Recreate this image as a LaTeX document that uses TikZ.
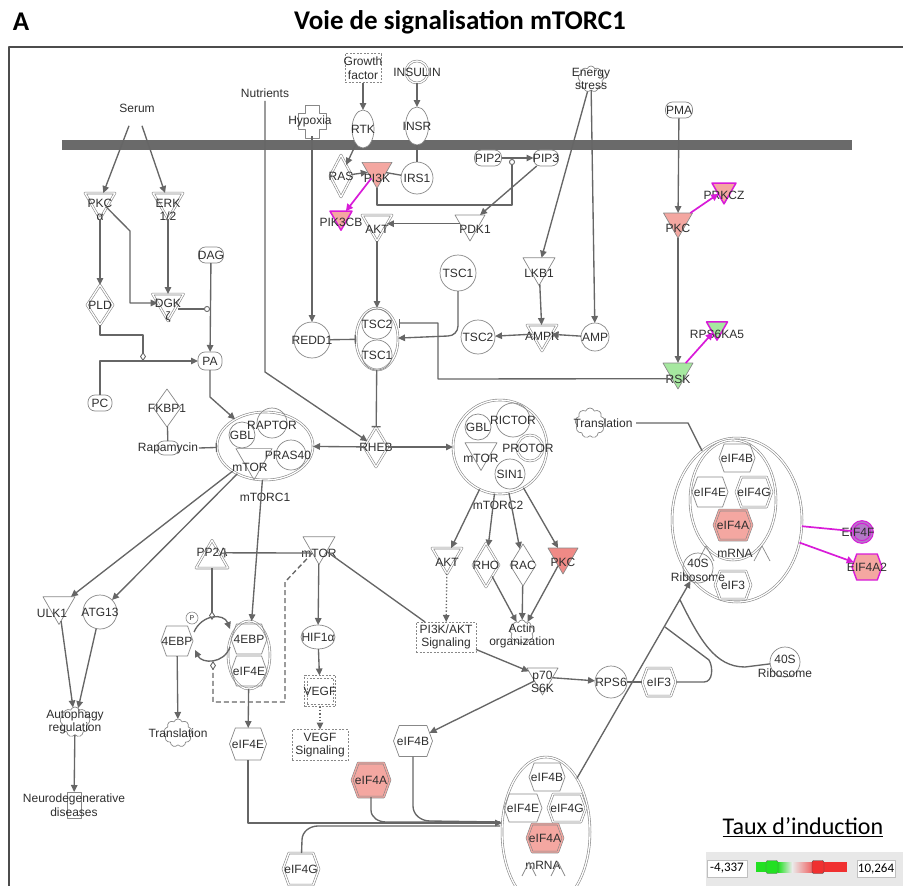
\documentclass[tikz,border=0pt]{standalone}
\usepackage{fontspec}
\setmainfont{Liberation Sans}
\newfontfamily\calfont{Carlito}
\usetikzlibrary{shapes.geometric,shapes.misc,shapes.symbols,arrows.meta,calc}
\definecolor{sc}{HTML}{888888}
\definecolor{lc}{HTML}{666666}
\definecolor{txt}{HTML}{2E2E2E}
\definecolor{redf}{HTML}{F4A7A1}
\definecolor{redd}{HTML}{F08A86}
\definecolor{grnf}{HTML}{A6E8A0}
\definecolor{mag}{HTML}{D81BD8}
\definecolor{purp}{HTML}{B478C8}
\definecolor{memb}{HTML}{6A6A6A}
\definecolor{legg}{HTML}{22E022}
\definecolor{legr}{HTML}{F03030}
\newcommand\ipafs{\fontsize{12}{13.5}\selectfont}
\begin{document}
\begin{tikzpicture}[x=1pt,y=-1pt,line join=round,
  every node/.append style={font=\ipafs,text=txt},
  every label/.append style={inner sep=0pt,align=center},
  sh/.style={draw=sc,line width=0.7pt,inner sep=0pt,outer sep=0pt},
  dbl/.style={double=#1,double distance=1.3pt,line width=0.6pt},
  dbl/.default=white,
  T/.style={label={center:#1}},
  dtri/.style={sh,regular polygon,regular polygon sides=3,shape border rotate=180,minimum size=#1},
  utri/.style={sh,regular polygon,regular polygon sides=3,minimum size=#1},
  circ/.style={sh,circle,minimum size=#1},
  ell/.style 2 args={sh,ellipse,minimum width=#1,minimum height=#2},
  dia/.style 2 args={sh,diamond,minimum width=#1,minimum height=#2},
  caps/.style 2 args={sh,rectangle,rounded corners=7pt,minimum width=#1,minimum height=#2},
  hexa/.style 2 args={sh,signal,signal to=east and west,signal pointer angle=140,minimum width=#1,minimum height=#2},
  gear/.style={sh,cloud,cloud puffs=9,cloud puff arc=140,aspect=1,minimum size=#1},
  dbox/.style 2 args={sh,rectangle,dash pattern=on 2pt off 1.5pt,minimum width=#1,minimum height=#2},
  ed/.style={draw=lc,line width=1.35pt},
  arr/.style={ed,-{Triangle[length=7pt,width=6.5pt]}},
  inh/.style={ed,-{Bar[width=9pt,line width=1.3pt]}},
  modc/.style={ed,-{Circle[open,length=6pt,width=6pt,line width=0.9pt]}},
  modd/.style={ed,-{Diamond[open,length=9pt,width=6pt,line width=0.9pt]}},
  marr/.style={draw=mag,line width=1.7pt,-{Triangle[length=7pt,width=7pt]}},
  mline/.style={draw=mag,line width=1.7pt}]
\useasboundingbox (0,0) rectangle (903,886);
% title and frame
\node[font=\calfont\bfseries\fontsize{27}{30}\selectfont,text=black] (lettA) at (21,22) {A};
\node[font=\calfont\bfseries\fontsize{27}{30}\selectfont,text=black] (title) at (460,22) {Voie de signalisation mTORC1};
\draw[draw=black!70,line width=1.5pt] (9,886) -- (9,47) -- (903,47);
% membrane
\fill[memb] (62,140) rectangle (852,150);
% ---------- top inputs
\node (serum) at (137,108) {Serum};
\node (nutr) at (265,93) {Nutrients};
\draw[sh] (305,105) -- (319,105) -- (319,113) -- (326,113) -- (326,129) -- (319,129) -- (319,138) -- (305,138) -- (305,129) -- (298,129) -- (298,113) -- (305,113) -- cycle;
\node[circle,minimum size=30pt,inner sep=0pt,label={[xshift=-2pt]center:Hypoxia}] (hypox) at (312,121) {};
\node[dbox={36pt}{29pt},T={Growth\\factor}] (gf) at (363,68) {};
\node[circ=22pt,dbl,T=INSULIN] (insulin) at (417,72) {};
\node[gear=26pt,T={Energy\\stress}] (energy) at (591,79) {};
\node[caps={27pt}{16pt},T=PMA] (pma) at (679,110) {};
\node[ell={22pt}{38pt},fill=white,T=RTK] (rtk) at (363,129) {};
\node[ell={23pt}{38pt},fill=white,T=INSR] (insr) at (417,126) {};
\node[dia={22pt}{42pt},dbl,T=RAS] (ras) at (341,176) {};
\node[dtri=34.6pt,fill=redf,label={[yshift=-7pt]center:PI3K}] (pi3k) at (377,171) {};
\node[circ=32pt,T=IRS1] (irs1) at (417,178) {};
\node[caps={27pt}{16pt},T=PIP2] (pip2) at (488,158) {};
\node[caps={25pt}{16pt},T=PIP3] (pip3) at (546,158) {};
\node[dtri=25.4pt,fill=redf,draw=mag,line width=1.5pt,label={[yshift=-5pt]center:PIK3CB}] (pik3cb) at (341,217.5) {};
\node[dtri=34.6pt,dbl,label={[yshift=-6pt]center:AKT}] (akt1) at (377,223.7) {};
\node[dtri=34.6pt,label={[yshift=-6pt,xshift=5pt]center:PDK1}] (pdk1) at (470,223.7) {};
\node[dtri=27.7pt,fill=redf,draw=mag,line width=1.5pt,label={[yshift=-5pt]center:PRKCZ}] (prkcz) at (724,190) {};
\node[dtri=33.5pt,fill=redf,label={[yshift=-7pt]center:PKC}] (pkc1) at (678,221.4) {};
\node[dtri=34.6pt,dbl,label={[yshift=-8pt]center:PKC\\α}] (pkca) at (100,201.7) {};
\node[dtri=34.6pt,dbl,label={[yshift=-8pt]center:ERK\\1/2}] (erk) at (168,201.7) {};
\node[caps={25pt}{16pt},T=DAG] (dag) at (211,255) {};
\node[dia={26pt}{40pt},dbl,T=PLD] (pld) at (100,305) {};
\node[dtri=35.8pt,dbl,label={[yshift=-8pt]center:DGK\\ζ}] (dgk) at (168,303) {};
\node[circ=36pt,T=TSC1] (tsc1a) at (458,273) {};
\node[dtri=37pt,label={[yshift=-6pt]center:LKB1}] (lkb1) at (539,267) {};
\node[circ=36pt,T=REDD1] (redd1) at (312,340) {};
\node[ell={42pt}{62pt},dbl] (tscc) at (377,339) {};
\node[circ=30pt,T=TSC2] (tscc2) at (377,324) {};
\node[circ=30pt,T=TSC1] (tscc1) at (377,355) {};
\node[circ=34pt,T=TSC2] (tsc2s) at (478,337) {};
\node[dtri=34.6pt,dbl,label={[yshift=-3pt]center:AMPK}] (ampk) at (542,333.7) {};
\node[circ=28pt,T=AMP] (amp) at (595,337) {};
\node[dtri=34.6pt,fill=grnf,label={[yshift=-8pt]center:RSK}] (rsk) at (678,371.7) {};
\node[dtri=24.2pt,fill=grnf,draw=mag,line width=1.5pt,label={[yshift=-6pt]center:RPS6KA5}] (rps6ka5) at (717,328) {};
\node[caps={24pt}{18pt},T=PA] (pa) at (210,361) {};
\node[caps={24pt}{16pt},T=PC] (pc) at (100,403) {};
\node[dia={27pt}{38pt},T=FKBP1] (fkbp1) at (167,408) {};
\node[caps={22pt}{14pt},T=Rapamycin] (rapa) at (168,448) {};
% ---------- mTORC1
\node[ell={96pt}{68pt},dbl] (mtorc1) at (265,446) {};
\node[circ=26pt,T=GBL] (gbl1) at (242,435) {};
\node[circ=30pt,label={[yshift=-2pt]center:RAPTOR}] (raptor) at (272,423) {};
\node[circ=30pt,label={[xshift=-3pt]center:PRAS40}] (pras40) at (291,455) {};
\node[dtri=41.6pt,label={[yshift=-8pt,xshift=-4pt]center:mTOR}] (mtor1) at (254,459) {};
\node (mtorc1l) at (265,497) {mTORC1};
\node[dia={24pt}{40pt},dbl,T=RHEB] (rheb) at (376,447) {};
% ---------- mTORC2
\node[circ=94pt,dbl] (mtorc2) at (500,447) {};
\node[circ=26pt,T=GBL] (gbl2) at (478,427) {};
\node[circ=34pt,T=RICTOR] (rictor) at (513,420) {};
\node[circ=26pt,dbl,label={[xshift=-2pt]center:PROTOR}] (protor) at (530,448) {};
\node[dtri=37pt,label={[yshift=-6pt]center:mTOR}] (mtor2) at (481,452) {};
\node[circ=30pt,T=SIN1] (sin1) at (510,474) {};
\node (mtorc2l) at (498,505) {mTORC2};
% ---------- right side complex
\node[gear=30pt,label={[xshift=13pt]center:Translation}] (transl1) at (590,423) {};
\node[ell={130pt}{164pt},dbl] (rightc) at (737,520) {};
\node[ell={86pt}{120pt},dbl] (rightin) at (733,500) {};
\node[hexa={36pt}{28pt},T=eIF4B] (r4b) at (737,458) {};
\node[hexa={36pt}{30pt},T=eIF4E] (r4e) at (710,492) {};
\node[hexa={36pt}{30pt},dbl,T=eIF4G] (r4g) at (754,492) {};
\node[hexa={38pt}{30pt},dbl=redf,fill=redf,T=eIF4A] (r4a) at (733,525) {};
\node (rmrna) at (735,553) {mRNA};
\draw[sh] (698,561) -- (706,546) -- (714,561);
\draw[sh] (754,561) -- (762,546) -- (770,561);
\node[circ=30pt,label={[yshift=5pt]center:40S},label={[yshift=-9pt]center:Ribosome}] (rribo) at (698,568) {};
\node[hexa={36pt}{28pt},dbl,T=eIF3] (r3) at (733,585) {};
\node[circ=20pt,draw=mag,line width=1.1pt,double=purp,double distance=1.5pt,fill=purp,label={[xshift=-4pt]center:EIF4F}] (eif4f) at (862,532) {};
\node[hexa={30pt}{26pt},fill=redf,draw=mag,line width=1.4pt,T=EIF4A2] (eif4a2) at (867,567) {};
% ---------- lower left
\node[dtri=37pt,label={[yshift=-7pt,xshift=-7pt]center:ULK1}] (ulk1) at (59,606) {};
\node[circ=34pt,T=ATG13] (atg13) at (100,612) {};
\node[gear=30pt,T={Autophagy\\regulation}] (autoph) at (75,722) {};
\node[sh,rectangle,minimum width=14pt,minimum height=26pt,T={Neurodegenerative\\diseases}] (neuro) at (74,805) {};
\node[utri=37pt,dbl,label={[yshift=6pt]center:PP2A}] (pp2a) at (212,558.8) {};
\node[dtri=37pt,label={[yshift=-7pt]center:mTOR}] (mtorl) at (319,546) {};
\node[ell={34pt}{24pt},T=HIF1α] (hif) at (318,637) {};
\node[dbox={31pt}{31pt}] (vegf) at (320,691) {};
\node[dbox={26pt}{26pt},T=VEGF] (vegfin) at (320,691) {};
\node[dbox={56pt}{31pt},T={VEGF\\Signaling}] (vegfs) at (320,745) {};
\node[dbox={60pt}{30pt},T={PI3K/AKT\\Signaling}] (pi3ks) at (446,637) {};
\node[dtri=34.6pt,dbl,label={[yshift=-6pt]center:AKT}] (akt2) at (447,556.7) {};
\node[dia={26pt}{44pt},dbl,T=RHO] (rho) at (486,565) {};
\node[dia={26pt}{42pt},T=RAC] (rac) at (523,565) {};
\node[dtri=34.6pt,fill=redd,label={[yshift=-6pt]center:PKC}] (pkc2) at (563,556.7) {};
\node[gear=24pt,label={[yshift=-4pt]center:Actin\\organization}] (actin) at (522,632) {};
\node[dtri=35.8pt,label={[yshift=-5pt]center:p70\\S6K}] (p70) at (542.5,677) {};
\node[circ=32pt,T=RPS6] (rps6) at (611,682) {};
\node[hexa={34pt}{28pt},dbl,T=eIF3] (eif3) at (659,682) {};
\node[circ=30pt,label={[yshift=3pt]center:40S},label={[yshift=-11pt]center:Ribosome}] (ribo2) at (785,662) {};
\node[hexa={32pt}{30pt},T=4EBP] (ebpl) at (177,641) {};
\node[circ=12pt,line width=0.6pt,label={[font=\fontsize{7}{7}\selectfont]center:P}] (phos) at (192,618) {};
\node[ell={42pt}{68pt},dbl] (ebpc) at (249,655) {};
\node[hexa={36pt}{30pt},T=4EBP] (ebpin) at (249,639) {};
\node[hexa={36pt}{30pt},T=eIF4E] (eif4ein) at (249,671) {};
\node[gear=28pt,T=Translation] (transl2) at (178,733) {};
\node[hexa={37pt}{32pt},T=eIF4E] (eif4el) at (248,744) {};
\node[hexa={39pt}{31pt},T=eIF4B] (eif4bl) at (413,741) {};
\node[hexa={38pt}{34pt},dbl=redf,fill=redf,T=eIF4A] (eif4al) at (371,780) {};
\node[hexa={36pt}{32pt},dbl,T=eIF4G] (eif4gl) at (301,869) {};
% lower complex
\node[ell={88pt}{150pt},dbl] (lowc) at (546,832) {};
\node[hexa={36pt}{28pt},T=eIF4B] (l4b) at (547,777) {};
\node[hexa={38pt}{28pt},T=eIF4E] (l4e) at (523,808) {};
\node[hexa={38pt}{28pt},dbl,T=eIF4G] (l4g) at (567,808) {};
\node[hexa={36pt}{28pt},dbl=redf,fill=redf,T=eIF4A] (l4a) at (545,838) {};
\node (lmrna) at (543,865) {mRNA};
\draw[sh] (522,876) -- (529,862) -- (536,876);
\draw[sh] (551,876) -- (558,862) -- (565,876);
% ---------- edges
\draw[arr] ([shift={(-8pt,-10pt)}]serum.south) -- (pkca);
\draw[arr] ([shift={(5pt,-10pt)}]serum.south) -- (erk);
\draw[arr] (pkca) -- (pld);
\draw[arr] ($(pkca)+(6,5)$) -- (130,231) |- (dgk);
\draw[arr] (erk) -- (dgk);
\draw[modc] ($(dgk)+(10,6)$) -- (210,309);
\draw[arr] (dag) -- (pa);
\draw[modd] (pld) |- (143,335) -- (143,361);
\draw[arr] (pc) |- (pa);
\draw[arr] (pa) -- (210,397) -- (mtorc1);
\draw[ed] (fkbp1) -- (rapa);
\draw[inh] ($(rapa)+(31,0)$) -- (mtorc1);
\draw[arr] (nutr.south) -- (265,372) -- (rheb);
\draw[arr] (hypox) -- (redd1);
\draw[inh] (redd1) -- (tscc);
\draw[arr] (gf) -- (rtk);
\draw[arr] (insulin) -- (insr);
\draw[ed] (insr) -- (irs1);
\draw[arr] (rtk) -- (ras);
\draw[arr] (ras) -- (pi3k);
\draw[ed] (irs1) -- (pi3k);
\draw[marr] (pi3k) -- (pik3cb);
\draw[modc] (pi3k.south) |- (512,205) -- (512,159);
\draw[arr] (pip2) -- (pip3);
\draw[arr] (pip3) -- (pdk1);
\draw[arr] (pdk1) -- (akt1);
\draw[arr] (akt1) -- (tscc);
\draw[arr] (tsc1a) -- (458,326) to[out=-90,in=0] (448,336) -- (tscc);
\draw[inh] ($(rsk)+(-8,7)$) -- (438,379) -- (438,323) -- (399,323);
\draw[arr] (energy) -- (lkb1);
\draw[arr] (energy) -- (amp);
\draw[arr] (lkb1) -- (ampk);
\draw[arr] (amp) -- (ampk);
\draw[arr] (ampk) -- (tsc2s);
\draw[inh] (tscc) -- (rheb);
\draw[arr] (rheb) -- (mtorc1);
\draw[arr] (rheb) -- (mtorc2);
\draw[arr] (pma) -- (pkc1);
\draw[marr] (pkc1) -- (prkcz);
\draw[arr] (pkc1) -- (rsk);
\draw[marr] (rsk) -- (rps6ka5);
\draw[arr] (mtorc1) -- (ulk1);
\draw[arr] (mtorc1) -- (atg13);
\draw[arr] (mtorc1) -- (ebpc);
\draw[arr] (ulk1) -- (autoph);
\draw[arr] (atg13) -- (autoph);
\draw[arr] (autoph) -- (neuro);
\draw[inh] ($(mtorl)+(-8,7)$) -- ($(pp2a)+(12,-6)$);
\draw[modd] (pp2a) -- (212,620);
\draw[arr] (194,632) .. controls (202,614) and (224,613) .. (230,629);
\draw[arr] (230,647) .. controls (224,664) and (202,664) .. (195,650);
\draw[modd,dash pattern=on 5pt off 3pt] (mtorl) -- (285,582) -- (285,702) -- (213,702) -- (213,661);
\draw[arr] (mtorl) -- (hif);
\draw[arr] (hif) -- (vegf);
\draw[arr,dotted] (vegf) -- (vegfs);
\draw[ed] (mtorl) -- (pi3ks);
\draw[arr] (ebpc) -- (eif4el);
\draw[arr] (ebpl) -- (transl2);
\draw[arr] (mtorc2) -- (akt2);
\draw[arr] (mtorc2) -- (rho);
\draw[arr] (mtorc2) -- (rac);
\draw[arr] (mtorc2) -- (pkc2);
\draw[arr,dotted] (akt2) -- (pi3ks);
\draw[arr] (rho) -- (actin);
\draw[arr] (rac) -- (actin);
\draw[arr] (pkc2) -- (actin);
\draw[arr] (pi3ks) -- (p70);
\draw[arr] (p70) -- (rps6);
\draw[ed] (rps6) -- (eif3);
\draw[arr] (p70) -- (eif4bl);
\coordinate (lowin) at (502,823);
\draw[ed] (eif4gl) -- (302,840) to[out=90,in=180] (318,826) -- (500,826);
\draw[ed] (eif4al) -- (371,810) to[out=-90,in=180] (386,822) -- (500,822);
\draw[ed] (eif4bl) -- (413,806) to[out=-90,in=180] (430,821) -- (500,822);
\draw[arr] (eif4el) -- (248,823) -- (lowin);
\draw[arr] (lowc) -- (rribo);
\draw[ed] (eif3) -- (704,682) to[out=0,in=-60] (709,660) -- (665,627);
\draw[ed] (ribo2) -- (745,667) .. controls (715,667) and (700,640) .. (680,600);
\coordinate (trend) at (636,423);
\draw[ed] (trend) -- (688,423) -- (rightc);
\draw[mline] (rightc) -- (eif4f);
\draw[marr] (rightc) -- (eif4a2);
% ---------- legend
\node[font=\calfont\fontsize{24}{26}\selectfont,text=black] (legtitle) at (803,827) {\underline{Taux d’induction}};
\fill[black!9] (706,852) rectangle (903,886);
\node[draw=black!25,fill=white,font=\calfont\fontsize{13}{14}\selectfont,text=black,minimum width=40pt,minimum height=17pt,inner sep=0pt] (legmin) at (727,868.5) {-4,337};
\node[draw=black!25,fill=white,font=\calfont\fontsize{13}{14}\selectfont,text=black,minimum width=38pt,minimum height=17pt,inner sep=0pt] (legmax) at (876,868.5) {10,264};
\fill[legg] (756,862) rectangle (778,872);
\shade[left color=legg,right color=black!8] (778,862) rectangle (792,872);
\shade[left color=black!8,right color=legr] (792,862) rectangle (820,872);
\fill[legr] (820,862) rectangle (847,872);
\node[draw=black!60,fill=legg,rounded corners=2pt,minimum width=12pt,minimum height=13pt,inner sep=0pt] (knobg) at (772,867) {};
\node[draw=black!70,fill=legr,rounded corners=2pt,minimum width=12pt,minimum height=13pt,inner sep=0pt] (knobr) at (818,867) {};
\end{tikzpicture}
\end{document}
